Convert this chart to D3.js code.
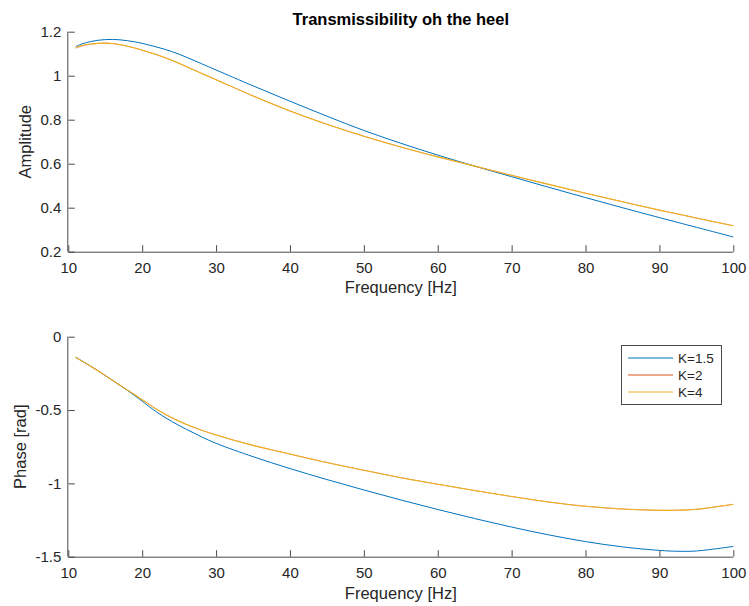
<!DOCTYPE html>
<html>
<head>
<meta charset="utf-8">
<script src="https://cdn.jsdelivr.net/npm/d3@7"></script>
<style>
  html, body { margin: 0; padding: 0; background: #fff; }
  svg { display: block; font-family: "Liberation Sans", Arial, Helvetica, sans-serif; }
</style>
</head>
<body>
<svg id="chart" width="749" height="606"></svg>
<script>
// ---- Data ----
const freq = [11, 12, 13, 14, 15, 16, 17, 18, 19, 20, 22, 24, 26, 28, 30, 35, 40, 45, 50, 55, 60, 65, 70, 75, 80, 85, 90, 92.5, 95, 100];

const ampK15 = [1.133, 1.146, 1.155, 1.161, 1.164, 1.165, 1.163, 1.159, 1.154, 1.147, 1.130, 1.110, 1.084, 1.055, 1.026, 0.954, 0.884, 0.816, 0.751, 0.693, 0.639, 0.589, 0.541, 0.493, 0.446, 0.400, 0.355, 0.333, 0.311, 0.267];
const ampK2  = [1.125, 1.136, 1.143, 1.147, 1.148, 1.146, 1.141, 1.134, 1.126, 1.116, 1.095, 1.070, 1.041, 1.011, 0.982, 0.908, 0.840, 0.779, 0.725, 0.676, 0.631, 0.589, 0.547, 0.506, 0.466, 0.427, 0.389, 0.371, 0.353, 0.318];
const ampK4  = [1.128, 1.138, 1.144, 1.147, 1.148, 1.146, 1.141, 1.134, 1.126, 1.116, 1.095, 1.070, 1.041, 1.011, 0.982, 0.908, 0.840, 0.779, 0.725, 0.676, 0.631, 0.589, 0.547, 0.506, 0.466, 0.427, 0.389, 0.371, 0.353, 0.318];

const phaseK15 = [-0.140, -0.170, -0.200, -0.232, -0.265, -0.298, -0.332, -0.366, -0.402, -0.440, -0.515, -0.578, -0.632, -0.682, -0.727, -0.818, -0.899, -0.974, -1.045, -1.113, -1.178, -1.240, -1.298, -1.351, -1.397, -1.433, -1.457, -1.463, -1.461, -1.430];
const phaseK2  = [-0.141, -0.171, -0.201, -0.232, -0.265, -0.298, -0.331, -0.364, -0.396, -0.430, -0.496, -0.552, -0.598, -0.637, -0.670, -0.741, -0.800, -0.858, -0.911, -0.961, -1.006, -1.049, -1.090, -1.127, -1.156, -1.175, -1.184, -1.183, -1.177, -1.143];
const phaseK4  = [-0.140, -0.170, -0.200, -0.232, -0.265, -0.298, -0.331, -0.364, -0.396, -0.430, -0.496, -0.552, -0.598, -0.637, -0.670, -0.741, -0.800, -0.858, -0.911, -0.961, -1.006, -1.049, -1.090, -1.127, -1.156, -1.175, -1.184, -1.183, -1.177, -1.143];

const seriesNames = ["K=1.5", "K=2", "K=4"];
const seriesColors = ["#0072BD", "#D95319", "#EDB120"];

const xTicks = [10, 20, 30, 40, 50, 60, 70, 80, 90, 100];
const ampTicks = [0.2, 0.4, 0.6, 0.8, 1, 1.2];
const phaseTicks = [-1.5, -1, -0.5, 0];

const titleText = "Transmissibility oh the heel";
const xLabel = "Frequency [Hz]";
const ampLabel = "Amplitude";
const phaseLabel = "Phase [rad]";

// ---- Layout ----
const svg = d3.select("#chart");
const left = 68.3, right = 733.3;
const axColor = "#4a4a4a", txtColor = "#262626";
const tickLen = 6.5;
const widths = [1.0, 0.6, 1.05];

const x = d3.scaleLinear().domain([10, 100]).range([left, right]);

function drawPanel(cfg) {
  const y = d3.scaleLinear().domain(cfg.domain).range([cfg.bottom, cfg.top]);
  const g = svg.append("g");

  const line = d3.line()
    .x(d => x(d[0]))
    .y(d => y(d[1]))
    .curve(d3.curveCatmullRom.alpha(0.5));
  cfg.series.forEach((vals, i) => {
    g.append("path")
      .datum(freq.map((f, j) => [f, vals[j]]))
      .attr("fill", "none")
      .attr("stroke", seriesColors[i])
      .attr("stroke-width", widths[i])
      .attr("d", line);
  });

  const xAxis = d3.axisBottom(x).tickValues(xTicks).tickSizeInner(-tickLen).tickSizeOuter(0)
    .tickFormat(d => String(d)).tickPadding(11);
  const gx = g.append("g").attr("transform", `translate(0,${cfg.bottom})`).call(xAxis);
  gx.select(".domain").attr("stroke", axColor).attr("d", `M${left},0.5H${right}`);
  gx.selectAll(".tick line").attr("stroke", axColor);
  gx.selectAll(".tick text").attr("fill", txtColor).attr("font-size", 15)
    .attr("font-family", "Liberation Sans, Arial, sans-serif");

  const yAxis = d3.axisLeft(y).tickValues(cfg.ticks).tickSizeInner(-tickLen).tickSizeOuter(0)
    .tickFormat(d => String(d)).tickPadding(7);
  const gy = g.append("g").attr("transform", `translate(${left},0)`).call(yAxis);
  gy.select(".domain").attr("stroke", axColor).attr("d", `M-0.5,${cfg.top}V${cfg.bottom}`);
  gy.selectAll(".tick line").attr("stroke", axColor);
  gy.selectAll(".tick text").attr("fill", txtColor).attr("font-size", 15)
    .attr("font-family", "Liberation Sans, Arial, sans-serif");

  g.append("text")
    .attr("x", (left + right) / 2).attr("y", cfg.xLabelY)
    .attr("text-anchor", "middle").attr("font-size", 16.5).attr("fill", txtColor)
    .text(xLabel);

  g.append("text")
    .attr("transform", `translate(${cfg.yLabelX},${(cfg.top + cfg.bottom) / 2}) rotate(-90)`)
    .attr("text-anchor", "middle").attr("font-size", 16.5).attr("fill", txtColor)
    .text(cfg.yLabel);

  return { g, y };
}

drawPanel({
  domain: [0.2, 1.2], top: 31.7, bottom: 251.7, ticks: ampTicks,
  series: [ampK15, ampK2, ampK4], yLabel: ampLabel, yLabelX: 31, xLabelY: 293
});

svg.append("text")
  .attr("x", (left + right) / 2).attr("y", 25)
  .attr("text-anchor", "middle").attr("font-size", 16.5).attr("font-weight", "bold")
  .attr("fill", "#000").text(titleText);

drawPanel({
  domain: [-1.5, 0], top: 336.7, bottom: 556.7, ticks: phaseTicks,
  series: [phaseK15, phaseK2, phaseK4], yLabel: phaseLabel, yLabelX: 26, xLabelY: 599
});

// Legend
const lg = svg.append("g");
const lgX = 621.5, lgY = 345.5, lgW = 100, lgH = 59;
lg.append("rect").attr("x", lgX).attr("y", lgY).attr("width", lgW).attr("height", lgH)
  .attr("fill", "#fff").attr("stroke", "#4a4a4a").attr("stroke-width", 1);
seriesNames.forEach((name, i) => {
  const cy = 358 + i * 17;
  lg.append("line").attr("x1", 628).attr("x2", 673).attr("y1", cy).attr("y2", cy)
    .attr("stroke", seriesColors[i]).attr("stroke-width", 1);
  lg.append("text").attr("x", 678).attr("y", cy).attr("dy", "0.35em")
    .attr("font-size", 13.5).attr("fill", txtColor).text(name);
});
</script>
</body>
</html>
